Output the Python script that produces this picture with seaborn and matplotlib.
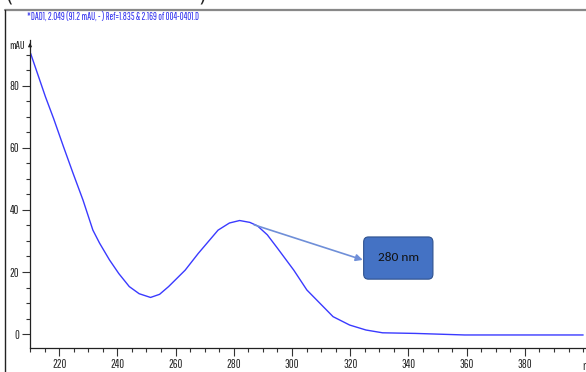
import matplotlib
matplotlib.use("Agg")
import matplotlib.pyplot as plt
import seaborn as sns
import pandas as pd
from matplotlib.patches import FancyBboxPatch
from matplotlib.ticker import MultipleLocator

sns.set_style("white")
COND = "Pathway Gothic One"
plt.rcParams['font.family'] = [COND, 'DejaVu Sans']

# data
wavelength = [210.2, 215.3, 218.1, 221.5, 224.8, 228.2, 231.6, 233.9, 237.3,
              240.5, 244.1, 247.5, 251.4, 254.5, 257.6, 263.3, 267.8, 274.6, 278.5,
              282.0, 285.5, 288.1, 291.5, 294.9, 300.6, 305.1, 309.6, 314.1, 319.8,
              325.4, 331.1, 342.4, 359.3, 400]
absorbance = [90.5, 76.5, 69.5, 60.4, 51.8, 43.2, 33.5, 29.3, 23.9,
              19.5, 15.3, 13.0, 11.8, 12.8, 15.3, 20.6, 26.0, 33.5, 35.8,
              36.6, 36.0, 34.9, 32.0, 27.8, 20.6, 14.2, 9.9, 5.6, 2.9,
              1.3, 0.4, 0.2, -0.3, -0.3]
x_ticks = [220, 240, 260, 280, 300, 320, 340, 360, 380]
y_ticks = [0, 20, 40, 60, 80]
title_text = "*DAD1, 2.049 (91.2 mAU, - ) Ref=1.835 & 2.169 of 004-0401.D"
peak_label = "280 nm"

df = pd.DataFrame({"nm": wavelength, "mAU": absorbance})

W, H = 586, 372
fig = plt.figure(figsize=(W / 100, H / 100), dpi=100)
ax = fig.add_axes([30 / W, (H - 348) / H, (W - 30) / W + 0.02, (348 - 40) / H])

sns.lineplot(data=df, x="nm", y="mAU", ax=ax, color="#3a3aff", linewidth=1.0)

ax.set_xlim(210, 405)
ax.set_ylim(-4.5, 94.8)
ax.set_xlabel("")
ax.set_ylabel("")
ax.xaxis.set_minor_locator(MultipleLocator(5))
ax.yaxis.set_minor_locator(MultipleLocator(5))
ax.set_xticks(x_ticks)
ax.set_yticks(y_ticks)
ax.tick_params(which="major", direction="out", length=6, width=0.8, color="#333333",
               labelsize=8.5, pad=2, bottom=True, left=True, labelcolor="#222222")
ax.tick_params(which="minor", direction="out", length=3, width=0.8, color="#333333",
               bottom=True, left=True)
for s in ["top", "right"]:
    ax.spines[s].set_visible(False)
for s in ["left", "bottom"]:
    ax.spines[s].set_color("#222222")
    ax.spines[s].set_linewidth(0.9)

# small arrow at the top of the y axis
ax.annotate("", xy=(0, 1.0), xytext=(0, 0.97), xycoords="axes fraction",
            arrowprops=dict(arrowstyle="-|>", color="#222222", lw=0.8,
                            mutation_scale=5))

fig.text(9 / W, 1 - 46 / H, "mAU", fontsize=8, ha="left", va="center", color="#222222")
fig.text(582 / W, 1 - 366 / H, "nm", fontsize=8.5, ha="left", va="center", color="#222222")
fig.text(27 / W, 1 - 18 / H, title_text, fontsize=7.0, color="#2a2aee",
         ha="left", va="center")

# outer page borders
fig.add_artist(plt.Line2D([5 / W, 1], [1 - 10 / H, 1 - 10 / H], color="#888888", lw=1.6))
fig.add_artist(plt.Line2D([5 / W, 5 / W], [0, 1 - 10 / H], color="#222222", lw=1.0))
fig.text(5 / W, 1 - 5 / H, "(", fontsize=14, family="DejaVu Sans", ha="left",
         va="bottom", color="#222222")
fig.text(198 / W, 1 - 5 / H, ")", fontsize=14, family="DejaVu Sans", ha="left",
         va="bottom", color="#222222")

# annotation arrow and box
ax.annotate("", xy=(324.3, 23.9), xytext=(287.0, 35.2),
            arrowprops=dict(arrowstyle="-|>", color="#6f8fd8", lw=1.2,
                            mutation_scale=10, shrinkA=0, shrinkB=0))
box = FancyBboxPatch((324.6, 17.7), 23.8, 13.6,
                     boxstyle="round,pad=0,rounding_size=1.6",
                     mutation_aspect=3.1 / 2.95,
                     facecolor="#4472c4", edgecolor="#2f528f", lw=0.8, zorder=5)
ax.add_patch(box)
ax.text(336.5, 24.8, peak_label, fontsize=9.6, family=["Carlito", "Open Sans", "DejaVu Sans"],
        ha="center", va="center", color="#111111", zorder=6)

fig.savefig("out.png", dpi=100)
